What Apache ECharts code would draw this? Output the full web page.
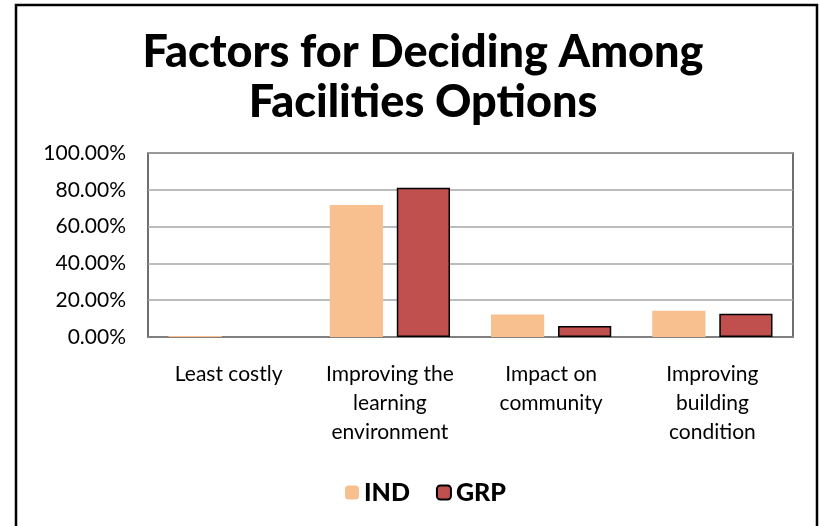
<!DOCTYPE html>
<html><head><meta charset="utf-8">
<script src="https://cdn.jsdelivr.net/npm/echarts@6/dist/echarts.min.js"></script>
<style>html,body{margin:0;padding:0;background:#fff}#c{width:820px;height:526px}</style>
</head><body><div id="c"></div>
<script>
const categories = ["Least costly", "Improving the\nlearning\nenvironment", "Impact on\ncommunity", "Improving\nbuilding\ncondition"];
const indValues = [0.5, 71.7, 12.2, 14.2];
const grpValues = [0, 81.1, 6.0, 12.7];
const yTicks = [0, 20, 40, 60, 80, 100];

const chart = echarts.init(document.getElementById('c'));
const font = 'Lato, "Open Sans", sans-serif';
chart.setOption({
  animation: false,
  backgroundColor: '#fff',
  graphic: [{
    type: 'rect', shape: {x: 16, y: 5, width: 801, height: 540},
    style: {fill: 'none', stroke: '#000', lineWidth: 2.5}, silent: true
  }],
  title: {
    text: 'Factors for Deciding Among\nFacilities Options',
    left: 418, textAlign: 'center', top: 22,
    textStyle: {fontFamily: font, fontWeight: 900, fontSize: 45, lineHeight: 50, color: '#000'}
  },
  legend: {
    data: ['IND', 'GRP'], bottom: 16, left: 340,
    itemWidth: 14, itemHeight: 14, itemGap: 26,
    textStyle: {fontFamily: font, fontWeight: 900, fontSize: 25, color: '#000'}
  },
  grid: {left: 148, right: 27, top: 153, bottom: 189, show: true, borderColor: '#404040', borderWidth: 1.5},
  xAxis: {
    type: 'category', data: categories,
    axisLine: {lineStyle: {color: '#808080', width: 2}},
    axisTick: {show: false},
    axisLabel: {fontFamily: font, fontSize: 21, color: '#000', lineHeight: 29, margin: 23, interval: 0}
  },
  yAxis: {
    type: 'value', min: 0, max: 100, interval: 20,
    axisLine: {show: false}, axisTick: {show: false},
    splitLine: {lineStyle: {color: '#a6a6a6', width: 1.5}},
    axisLabel: {fontFamily: font, fontSize: 21, color: '#000', margin: 22,
      formatter: v => yTicks.includes(v) ? v.toFixed(2) + '%' : ''}
  },
  series: [
    {name: 'IND', type: 'bar', data: indValues, barWidth: '33%', barGap: '26%',
     itemStyle: {color: '#F9C08F'}},
    {name: 'GRP', type: 'bar',
     data: grpValues.map(v => v === 0 ? {value: v, itemStyle: {borderWidth: 0}} : v),
     barWidth: '33%',
     itemStyle: {color: '#C0504D', borderColor: '#000', borderWidth: 1.5}}
  ]
});
</script></body></html>
